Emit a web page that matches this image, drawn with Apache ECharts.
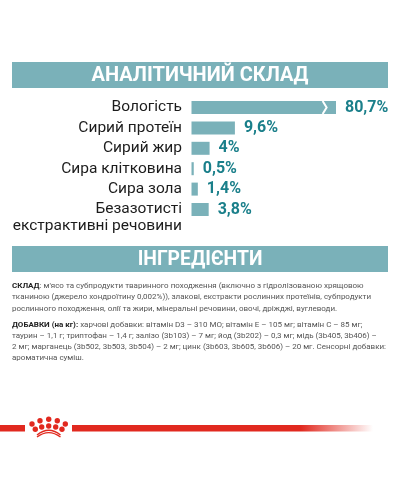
<!DOCTYPE html>
<html><head><meta charset="utf-8">
<style>html,body{margin:0;padding:0;background:#fff}#c{width:400px;height:500px}</style>
<script src="https://cdn.jsdelivr.net/npm/echarts@6/dist/echarts.min.js"></script>
</head><body><div id="c"></div>
<script>
const categories = ['Вологість','Сирий протеїн','Сирий жир','Сира клітковина','Сира зола','Безазотисті\nекстрактивні речовини'];
const values = [80.7, 9.6, 4, 0.5, 1.4, 3.8];
const valueLabels = ['80,7%','9,6%','4%','0,5%','1,4%','3,8%'];
const breakStart = 29, breakEnd = 78.7;
const heading1 = 'АНАЛІТИЧНИЙ СКЛАД', heading2 = 'ІНГРЕДІЄНТИ';
const para1 = [
 ['СКЛАД',': м\'ясо та субпродукти тваринного походження (включно з гідролізованою хрящовою'],
 ['','тканиною (джерело хондроїтину 0,002%)), злакові, екстракти рослинних протеїнів, субпродукти'],
 ['','рослинного походження, олії та жири, мінеральні речовини, овочі, дріжджі, вуглеводи.']];
const para2 = [
 ['ДОБАВКИ (на кг):',' харчові добавки: вітамін D3 – 310 МО; вітамін Е – 105 мг; вітамін С – 85 мг;'],
 ['','таурин – 1,1 г; триптофан – 1,4 г; залізо (3b103) – 7 мг; йод (3b202) – 0,3 мг; мідь (3b405, 3b406) –'],
 ['','2 мг; марганець (3b502, 3b503, 3b504) – 2 мг; цинк (3b603, 3b605, 3b606) – 20 мг. Сенсорні добавки:'],
 ['','ароматична суміш.']];
const teal='#7ab1b9', tealText='#1a7f8a', red='#e1291f', FONT='Roboto';

function bodyLine(l,y){return {type:'text',left:12,top:y,silent:true,style:{
  text:(l[0]?'{b|'+l[0]+'}':'')+'{n|'+l[1]+'}',
  rich:{b:{fontFamily:FONT,fontSize:8,fontWeight:'bold',fill:'#222',color:'#222'},
        n:{fontFamily:FONT,fontSize:8,fill:'#555',color:'#555'}}}};}
const dots=[[32,424],[40,420.7],[48.7,419.3],[57.3,420.7],[65.3,424],[35.3,429.3],[41.7,427],[48.7,426],[55.7,427],[62,429.3]];
const graphic=[
 {type:'rect',z:-1,shape:{x:12,y:62,width:376,height:26},style:{fill:teal}},
 {type:'rect',z:-1,shape:{x:12,y:246,width:376,height:26},style:{fill:teal}},
 {type:'text',x:200,y:75.5,style:{text:heading1,fill:'#fff',align:'center',verticalAlign:'middle',fontFamily:FONT,fontWeight:'bold',fontSize:20}},
 {type:'text',x:200,y:260,style:{text:heading2,fill:'#fff',align:'center',verticalAlign:'middle',fontFamily:FONT,fontWeight:'bold',fontSize:19.3}},
 {type:'rect',shape:{x:0,y:425,width:25,height:6.5},style:{fill:red}},
 {type:'rect',shape:{x:72,y:425,width:301,height:6.5},style:{fill:new echarts.graphic.LinearGradient(0,0,1,0,[{offset:0,color:red},{offset:0.76,color:red},{offset:1,color:'rgba(225,41,31,0)'}])}},
 ...dots.map(d=>({type:'circle',shape:{cx:d[0],cy:d[1],r:2.7},style:{fill:red}})),
 {type:'bezierCurve',shape:{x1:37,y1:435,x2:60.5,y2:435,cpx1:45,cpy1:428.5,cpx2:52.5,cpy2:428.5},style:{stroke:red,fill:null,lineWidth:1.4}},
 {type:'bezierCurve',shape:{x1:37,y1:437,x2:60.5,y2:437,cpx1:45,cpy1:431,cpx2:52.5,cpy2:431},style:{stroke:red,fill:null,lineWidth:1.4}}
];
para1.forEach((l,i)=>graphic.push(bodyLine(l,282+i*11.35)));
para2.forEach((l,i)=>graphic.push(bodyLine(l,321+i*11.15)));

const chart=echarts.init(document.getElementById('c'),null,{renderer:'canvas'});
chart.setOption({
 animation:false,backgroundColor:'#fff',
 grid:{left:191.5,top:97.3,width:144.5,height:122.4,containLabel:false},
 xAxis:{type:'value',min:0,max:80.7,show:false,splitLine:{show:false},
   breaks:[{start:breakStart,end:breakEnd,gap:'3%'}],breakArea:{show:false}},
 yAxis:{type:'category',inverse:true,axisLine:{show:false},axisTick:{show:false},
   axisLabel:{margin:9.5,color:'#1c1c1c',fontFamily:FONT,fontSize:15.5,lineHeight:17,align:'right',interval:0,padding:[2,0,0,0],
     formatter:v=>v.includes('\n')?' \n'+v:v},
   data:categories},
 series:[
  {type:'bar',barWidth:13,data:values,itemStyle:{color:teal},
   label:{show:true,position:'right',distance:9,color:tealText,fontFamily:FONT,fontWeight:'bold',fontSize:16,padding:[3,0,0,0],
     formatter:p=>valueLabels[p.dataIndex]}},
  {type:'custom',z:5,silent:true,data:[[breakStart,0]],encode:{x:0,y:1},
   renderItem:(params,api)=>{const p=api.coord([api.value(0),api.value(1)]);
     return {type:'polyline',shape:{points:[[p[0],p[1]-6.5],[p[0]+4,p[1]],[p[0],p[1]+6.5]]},style:{stroke:'#fff',fill:null,lineWidth:2}};}}
 ],
 graphic
});
</script></body></html>
